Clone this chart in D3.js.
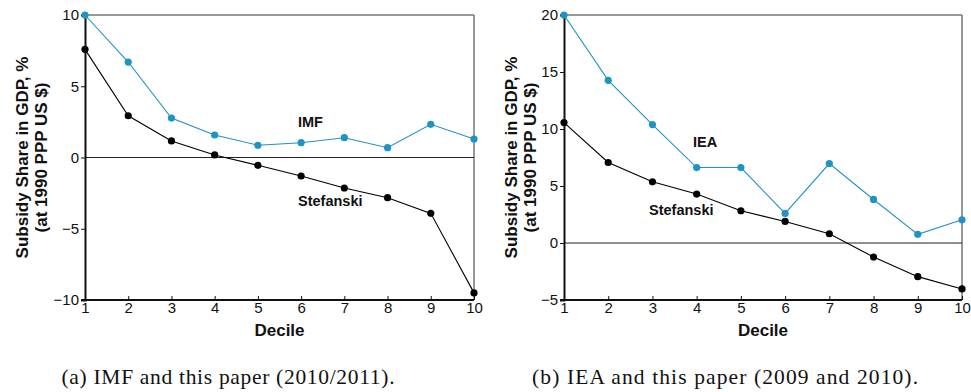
<!DOCTYPE html>
<html>
<head>
<meta charset="utf-8">
<script src="https://cdn.jsdelivr.net/npm/d3@7/dist/d3.min.js"></script>
<style>
  html, body { margin: 0; padding: 0; background: #fff; }
  svg { display: block; }
  text { font-family: "Liberation Sans", Arial, Helvetica, sans-serif; fill: #111; }
  .cap { font-family: "Liberation Serif", "DejaVu Serif", serif; }
</style>
</head>
<body>
<script>
const deciles = [1, 2, 3, 4, 5, 6, 7, 8, 9, 10];
const imfValues = [10.0, 6.7, 2.77, 1.58, 0.86, 1.04, 1.39, 0.69, 2.33, 1.3];
const stefanskiA = [7.59, 2.93, 1.16, 0.18, -0.55, -1.3, -2.14, -2.82, -3.92, -9.5];
const ieaValues = [20.0, 14.27, 10.39, 6.62, 6.62, 2.59, 6.97, 3.82, 0.76, 2.04];
const stefanskiB = [10.56, 7.06, 5.37, 4.29, 2.83, 1.89, 0.81, -1.23, -2.95, -4.03];
const yTicksA = [-10, -5, 0, 5, 10];
const yTicksB = [-5, 0, 5, 10, 15, 20];
const captions = ["(a) IMF and this paper (2010/2011).", "(b) IEA and this paper (2009 and 2010)."];

const W = 971, H = 392;
const BLUE = "#1f93c4";
const svg = d3.select("body").append("svg").attr("width", W).attr("height", H);

function panel(cfg) {
  const x = d3.scaleLinear().domain([1, 10]).range([cfg.x0, cfg.x1]);
  const y = d3.scaleLinear().domain(cfg.yDomain).range([cfg.y1, cfg.y0]);
  const g = svg.append("g");

  // frame top/right
  g.append("line").attr("x1", cfg.x0).attr("x2", cfg.x1).attr("y1", cfg.y0).attr("y2", cfg.y0)
    .attr("stroke", "#333").attr("stroke-width", 1.2);
  g.append("line").attr("x1", cfg.x1).attr("x2", cfg.x1).attr("y1", cfg.y0).attr("y2", cfg.y1)
    .attr("stroke", "#555").attr("stroke-width", 1.2);
  // zero line
  g.append("line").attr("x1", cfg.x0).attr("x2", cfg.x1).attr("y1", y(0)).attr("y2", y(0))
    .attr("stroke", "#222").attr("stroke-width", 1);

  // y axis
  const ya = g.append("g").attr("transform", `translate(${cfg.x0},0)`)
    .call(d3.axisLeft(y).tickValues(cfg.yTicks).tickSize(4).tickPadding(2).tickFormat(d => d < 0 ? "\u2212" + Math.abs(d) : d));
  ya.select(".domain").attr("stroke", "#111").attr("stroke-width", 2);
  ya.selectAll(".tick line").attr("stroke", "#111");
  ya.selectAll("text").style("font-size", "15px").attr("fill", "#111");

  // x axis (ticks inward)
  const xa = g.append("g").attr("transform", `translate(0,${cfg.y1})`)
    .call(d3.axisBottom(x).tickValues(deciles).tickSize(0).tickPadding(2));
  xa.select(".domain").attr("stroke", "#111").attr("stroke-width", 2)
    .attr("d", `M${cfg.x0 - 4},0H${cfg.x1}`);
  xa.selectAll(".tick").append("line").attr("y1", 0).attr("y2", -4).attr("stroke", "#111");
  xa.selectAll("text").style("font-size", "15px").attr("fill", "#111").attr("dy", "0.72em");

  const line = d3.line().x((d, i) => x(deciles[i])).y(d => y(d));
  function series(vals, color) {
    g.append("path").datum(vals).attr("d", line).attr("fill", "none")
      .attr("stroke", color).attr("stroke-width", 1.1);
    g.selectAll(null).data(vals).enter().append("circle")
      .attr("cx", (d, i) => x(deciles[i])).attr("cy", d => y(d)).attr("r", 3.6).attr("fill", color);
  }
  series(cfg.s1, "#000");
  series(cfg.s2, BLUE);

  // labels
  g.append("text").attr("x", cfg.lab2[0]).attr("y", cfg.lab2[1]).text(cfg.name2)
    .style("font-size", "14.5px").style("font-weight", "bold");
  g.append("text").attr("x", cfg.lab1[0]).attr("y", cfg.lab1[1]).text("Stefanski")
    .style("font-size", "14.5px").style("font-weight", "bold");

  // axis titles
  g.append("text").attr("x", (cfg.x0 + cfg.x1) / 2).attr("y", cfg.y1 + 36).attr("text-anchor", "middle")
    .text("Decile").style("font-size", "17px").style("font-weight", "bold");
  const cy = (cfg.y0 + cfg.y1) / 2;
  const t = g.append("text").attr("transform", `translate(${cfg.tx},${cy}) rotate(-90)`)
    .attr("text-anchor", "middle").style("font-size", "17px").style("font-weight", "bold");
  t.append("tspan").attr("x", 0).attr("y", 0).text("Subsidy Share in GDP, %");
  t.append("tspan").attr("x", 0).attr("y", 18.5).text("(at 1990 PPP US $)");

  svg.append("text").attr("class", "cap").attr("x", cfg.capX).attr("y", 384)
    .attr("text-anchor", "middle").text(cfg.cap).style("font-size", "21.5px")
    .attr("textLength", cfg.capW).attr("lengthAdjust", "spacing");
}

panel({ x0: 85, x1: 474, y0: 15, y1: 300, yDomain: [-10, 10], yTicks: yTicksA,
  s1: stefanskiA, s2: imfValues, name2: "IMF", lab2: [298, 127], lab1: [298, 206],
  tx: 28, capX: 228, capW: 333, cap: captions[0] });
panel({ x0: 564, x1: 962, y0: 15, y1: 300, yDomain: [-5, 20], yTicks: yTicksB,
  s1: stefanskiB, s2: ieaValues, name2: "IEA", lab2: [693, 147], lab1: [649, 215],
  tx: 517, capX: 725, capW: 386, cap: captions[1] });
</script>
</body>
</html>
